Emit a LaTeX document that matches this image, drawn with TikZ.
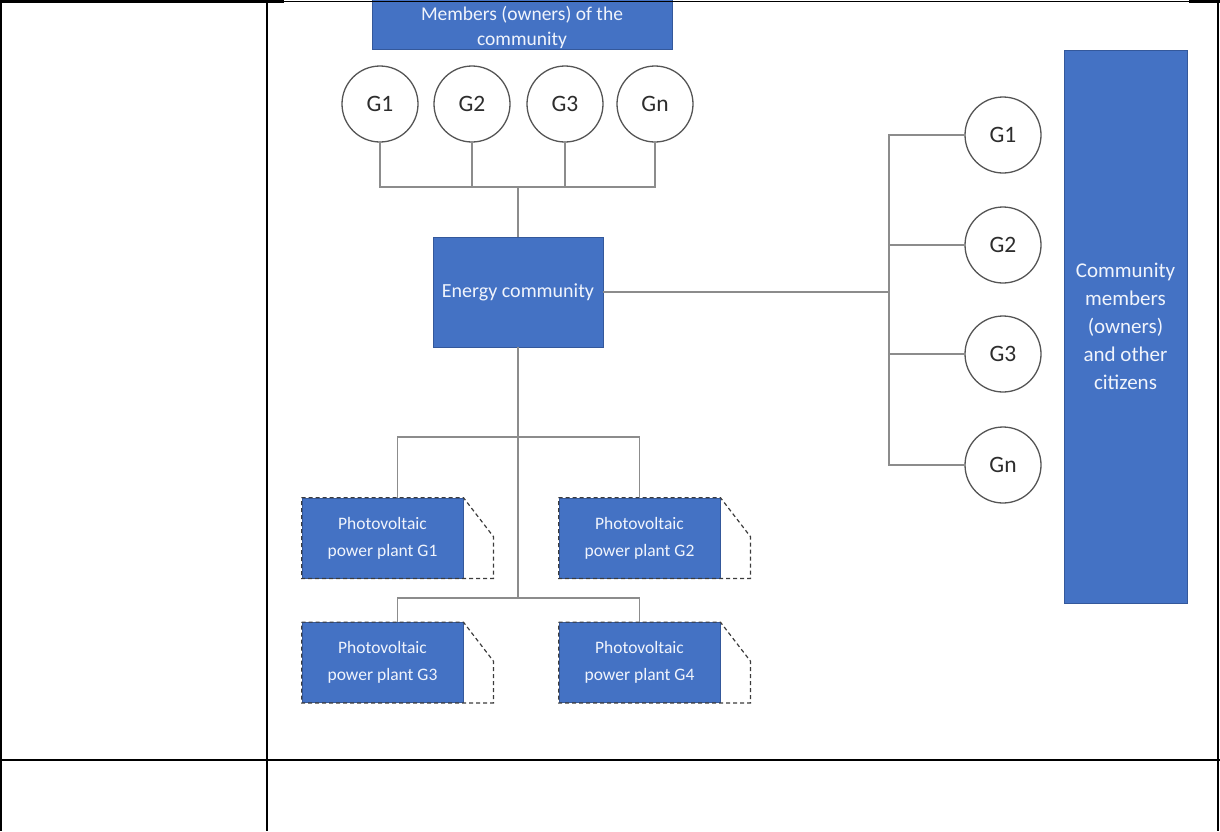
\documentclass[tikz,border=0pt]{standalone}
\usepackage{fontspec}
\setmainfont{Carlito}
\definecolor{ecblue}{RGB}{68,114,196}
\definecolor{ecedge}{RGB}{52,88,155}
\definecolor{linegray}{RGB}{140,140,140}
\definecolor{circgray}{RGB}{85,85,85}
\definecolor{dashgray}{RGB}{60,60,60}
\definecolor{gtext}{RGB}{45,45,45}
\definecolor{boxtxt}{RGB}{240,244,252}
\begin{document}
\begin{tikzpicture}[x=1pt,y=-1pt,
  tablerule/.style={line width=2.4pt,black},
  conn/.style={draw=linegray,line width=1.3pt},
  bluebox/.style={rectangle,fill=ecblue,draw=ecedge,line width=0.8pt,inner sep=0pt},
  boxtext/.style={text=boxtxt,align=center,inner sep=0pt},
  gcircle/.style={circle,draw=circgray,line width=1.3pt,fill=white,minimum size=76pt,
    inner sep=0pt,text=gtext,font=\fontsize{23.5}{26}\selectfont},
  pvbox/.style={bluebox,boxtext,minimum width=161pt,minimum height=80pt,
    font=\fontsize{17.5}{27}\selectfont},
  snip/.style={draw=dashgray,line width=1.2pt,dash pattern=on 4pt off 3pt}]
\useasboundingbox (0,0) rectangle (1220,831);

% members box across the top edge
\node[bluebox,minimum width=300pt,minimum height=60pt,anchor=south] (members) at (522,50) {};
\node[boxtext,font=\fontsize{19.5}{25}\selectfont] (memberstext) at (522,27.5)
  {Members (owners) of the\\community};

% member circles
\node[gcircle] (t1) at (380,104) {G1};
\node[gcircle] (t2) at (472,104) {G2};
\node[gcircle] (t3) at (565,104) {G3};
\node[gcircle] (t4) at (655,104) {Gn};
\coordinate (topbus) at (518,187);

% energy community
\node[bluebox,boxtext,minimum width=170pt,minimum height=110pt,
  font=\fontsize{20}{24}\selectfont] (ec) at (518,292) {Energy community};

% right-hand circles and citizens box
\node[gcircle] (r1) at (1003,135) {G1};
\node[gcircle] (r2) at (1003,245) {G2};
\node[gcircle] (r3) at (1003,354) {G3};
\node[gcircle] (r4) at (1003,465) {Gn};
\coordinate (rbus) at (889,292);
\node[bluebox,boxtext,minimum width=123pt,minimum height=553pt,
  font=\fontsize{21}{28}\selectfont] (cit) at (1125.5,326.5)
  {Community\\members\\(owners)\\and other\\citizens};

% photovoltaic plants
\node[pvbox] (p1) at (382.5,538) {Photovoltaic\\power plant G1};
\node[pvbox] (p2) at (639.5,538) {Photovoltaic\\power plant G2};
\node[pvbox] (p3) at (382.5,662.5) {Photovoltaic\\power plant G3};
\node[pvbox] (p4) at (639.5,662.5) {Photovoltaic\\power plant G4};
\foreach \p in {p1,p2,p3,p4}{
  \draw[snip] (\p.north west) -- (\p.north east) -- ++(30,39) |- (\p.south west) -- cycle;
}
\coordinate (pb1) at (518,437);
\coordinate (pb2) at (518,598);

% connectors: members to community
\draw[conn] (t1.south) |- (topbus);
\draw[conn] (t4.south) |- (topbus);
\draw[conn] (t2.south) -- (t2.south |- topbus);
\draw[conn] (t3.south) -- (t3.south |- topbus);
\draw[conn] (topbus) -- (ec.north);

% connectors: community to citizens
\draw[conn] (ec.east) -- (rbus);
\draw[conn] (r1.west) -| (rbus);
\draw[conn] (r4.west) -| (rbus);
\draw[conn] (r2.west) -- (r2.west -| rbus);
\draw[conn] (r3.west) -- (r3.west -| rbus);

% connectors: community to plants
\draw[conn] (ec.south) -- (pb2);
\draw[conn] ([xshift=15pt]p1.north) |- (pb1) -| (p2.north);
\draw[conn] ([xshift=15pt]p3.north) |- (pb2) -| (p4.north);

% table rules
\draw[tablerule] (1,0) -- (1,831);
\draw[tablerule] (267,0) -- (267,831);
\draw[tablerule] (1218,2) -- (1218,831);
\draw[tablerule] (0,760) -- (1219.5,760);
\draw[line width=2.4pt] (0,1.5) -- (284,1.5);
\draw[line width=1pt] (284,1) -- (1189,1);
\draw[line width=2.4pt] (1189,1.5) -- (1220,1.5);
\end{tikzpicture}
\end{document}
